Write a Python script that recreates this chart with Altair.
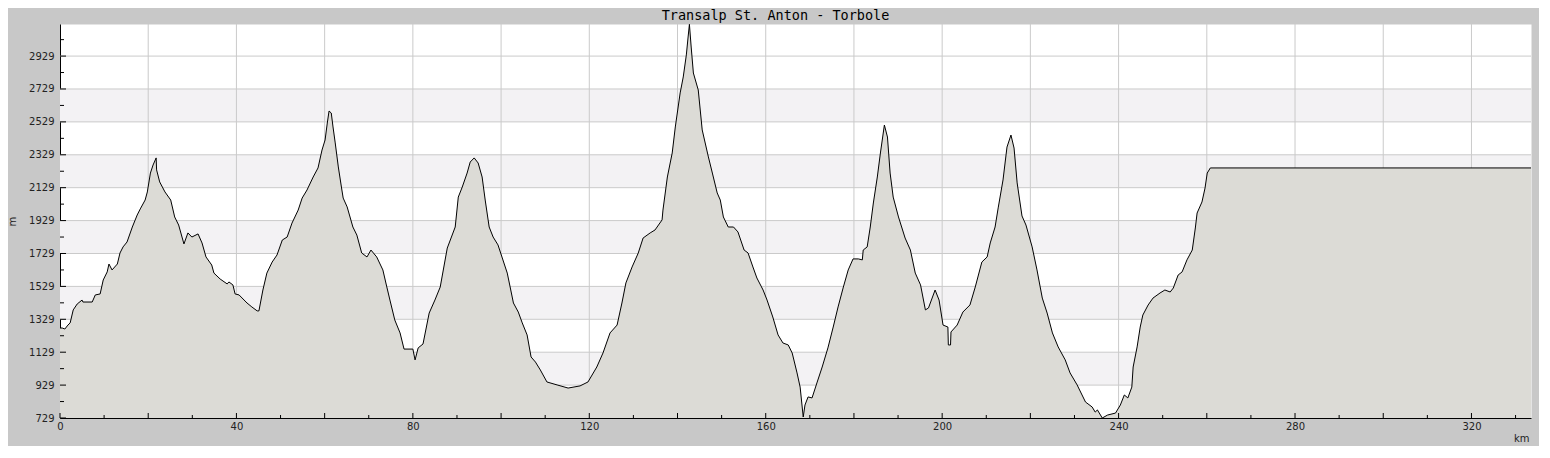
import altair as alt
import pandas as pd

TITLE = "Transalp St. Anton - Torbole"

# Elevation profile (km, m)
km = [
    0, 0.5, 1.1, 1.8, 2.3, 3.0, 3.9, 5.0, 5.2, 7.3,
    8.0, 9.1, 9.8, 10.7, 11.1, 11.8, 13.0, 13.6, 14.3, 15.2,
    16.4, 17.5, 18.2, 19.3, 19.8, 20.5, 21.1, 21.8, 21.9, 22.6,
    23.8, 25.1, 26.0, 26.9, 28.1, 29.0, 29.9, 31.3, 32.2, 33.1,
    34.4, 34.9, 36.3, 37.9, 38.3, 39.2, 39.7, 40.6, 42.4, 43.5,
    44.7, 45.1, 46.0, 46.9, 48.1, 49.2, 50.4, 51.5, 52.6, 54.0,
    54.9, 56.0, 57.4, 58.5, 59.4, 60.1, 60.6, 61.0, 61.5, 61.9,
    62.4, 63.1, 63.8, 64.2, 65.1, 66.4, 67.3, 68.4, 69.6, 70.5,
    71.8, 73.2, 74.1, 74.8, 75.9, 77.1, 78.0, 80.0, 80.5, 81.2,
    82.3, 83.7, 85.0, 86.2, 87.8, 89.6, 90.3, 91.2, 92.3, 93.0,
    93.9, 94.8, 95.7, 96.4, 97.3, 98.2, 99.3, 101.4, 102.8, 103.9,
    104.8, 105.9, 106.8, 107.8, 108.9, 110.4, 112.7, 115.2, 117.9, 119.7,
    121.7, 123.1, 124.7, 126.3, 127.4, 128.3, 129.7, 131.1, 132.2, 133.8,
    134.9, 136.5, 136.7, 137.7, 138.8, 139.5, 140.6, 141.3, 142.0, 142.4,
    142.7, 143.1, 143.6, 144.7, 145.6, 147.0, 147.9, 149.0, 149.7, 150.4,
    151.5, 152.7, 153.7, 155.1, 156.0, 157.1, 158.0, 159.4, 160.3, 161.6,
    162.8, 163.9, 165.1, 166.0, 167.1, 167.8, 168.5, 168.9, 169.6, 170.5,
    171.6, 172.8, 174.1, 175.3, 176.4, 177.6, 178.7, 179.8, 181.0, 181.9,
    182.1, 183.0, 183.7, 184.4, 185.3, 186.0, 186.9, 187.6, 188.2, 188.9,
    190.1, 191.6, 192.8, 193.9, 195.1, 196.2, 196.9, 198.4, 199.3, 200.2,
    201.3, 201.4, 201.9, 202.0, 203.4, 204.7, 206.3, 207.5, 209.0, 210.2,
    210.9, 212.0, 212.7, 213.8, 214.7, 215.6, 216.3, 217.0, 218.1, 219.0,
    220.4, 221.5, 222.7, 223.8, 225.0, 226.3, 227.9, 229.0, 230.6, 232.5,
    234.0, 234.7, 235.2, 236.3, 237.5, 239.3, 240.4, 241.3, 242.1, 243.0,
    243.3, 244.2, 244.9, 245.5, 246.7, 247.8, 249.4, 250.5, 251.7, 252.4,
    253.5, 254.4, 255.5, 256.7, 257.4, 257.8, 258.9, 259.6, 260.1, 260.8,
    333.5,
]
elev = [
    1276, 1276, 1270, 1294, 1307, 1386, 1422, 1446, 1434, 1434,
    1477, 1483, 1568, 1617, 1665, 1629, 1665, 1732, 1769, 1799,
    1890, 1963, 2000, 2054, 2103, 2218, 2267, 2310, 2237, 2164,
    2103, 2054, 1951, 1902, 1787, 1854, 1829, 1848, 1793, 1708,
    1659, 1610, 1574, 1544, 1556, 1538, 1483, 1477, 1428, 1404,
    1380, 1380, 1507, 1610, 1677, 1720, 1811, 1829, 1914, 1993,
    2066, 2115, 2194, 2249, 2358, 2419, 2522, 2595, 2583, 2498,
    2401, 2255, 2133, 2066, 2012, 1890, 1841, 1732, 1708, 1750,
    1708, 1629, 1525, 1446, 1325, 1246, 1148, 1148, 1082, 1155,
    1179, 1367, 1446, 1525, 1762, 1890, 2072, 2133, 2218, 2285,
    2310, 2279, 2194, 2054, 1890, 1829, 1781, 1610, 1428, 1373,
    1307, 1234, 1100, 1069, 1021, 948, 930, 911, 924, 948,
    1039, 1124, 1246, 1294, 1428, 1550, 1647, 1732, 1823, 1854,
    1872, 1933, 1993, 2194, 2340, 2498, 2705, 2802, 2936, 3045,
    3122, 2984, 2826, 2723, 2480, 2316, 2218, 2097, 2054, 1951,
    1890, 1890, 1860, 1750, 1732, 1647, 1580, 1507, 1446, 1343,
    1234, 1185, 1173, 1124, 1003, 917, 735, 808, 857, 851,
    942, 1039, 1155, 1282, 1404, 1525, 1629, 1696, 1696, 1690,
    1750, 1769, 1890, 2036, 2194, 2340, 2510, 2437, 2218, 2072,
    1951, 1823, 1750, 1610, 1538, 1386, 1398, 1507, 1446, 1294,
    1282, 1173, 1173, 1252, 1294, 1373, 1416, 1525, 1677, 1708,
    1793, 1890, 2006, 2176, 2376, 2449, 2370, 2158, 1957, 1902,
    1769, 1629, 1458, 1367, 1246, 1161, 1082, 1003, 930, 826,
    796, 765, 778, 729, 747, 759, 808, 869, 851, 917,
    1039, 1161, 1282, 1355, 1416, 1458, 1489, 1507, 1495, 1519,
    1598, 1617, 1690, 1750, 1884, 1975, 2042, 2127, 2218, 2249,
    2249,
]

y_major = [729, 929, 1129, 1329, 1529, 1729, 1929, 2129, 2329, 2529, 2729, 2929]
y_minor = [829, 1029, 1229, 1429, 1629, 1829, 2029, 2229, 2429, 2629, 2829, 3029]
x_major = [0, 20, 40, 60, 80, 100, 120, 140, 160, 180, 200, 220, 240, 260, 280, 300, 320]
x_minor = [10, 30, 50, 70, 90, 110, 130, 150, 170, 190, 210, 230, 250, 270, 290, 310, 330]
x_labels = [0, 40, 80, 120, 160, 200, 240, 280, 320]
band_lo = [929, 1329, 1729, 2129, 2529]
band_hi = [1129, 1529, 1929, 2329, 2729]
grid_y = [929, 1129, 1329, 1529, 1729, 1929, 2129, 2329, 2529, 2729, 2929]
grid_x = [20, 40, 60, 80, 100, 120, 140, 160, 180, 200, 220, 240, 260, 280, 300, 320]

W, H = 1471, 394
FONT = "DejaVu Sans"

xs = alt.Scale(domain=[0, 333.5], nice=False, zero=False)
ys = alt.Scale(domain=[729, 3124], nice=False, zero=False)

x_axis = alt.Axis(
    values=x_labels, format="d", grid=False, ticks=False, tickSize=0,
    labelPadding=3, labelFlush=False, domainColor="#000000",
    title="km", titleX=1469, titleY=23, titleAlign="right",
    titleBaseline="alphabetic",
)
y_axis = alt.Axis(
    values=y_major, format="d", grid=False, ticks=False, tickSize=0,
    labelPadding=6, domainColor="#000000",
    title="m", titleX=-48, titleY=197, titleAngle=270,
    titleAlign="center", titleBaseline="middle",
)


def X(field):
    return alt.X(field, scale=xs, axis=x_axis)


def Y(field):
    return alt.Y(field, scale=ys, axis=y_axis)


profile = pd.DataFrame({"km": km, "elev": elev})

bands = alt.Chart(pd.DataFrame({"lo": band_lo, "hi": band_hi})).mark_rect(
    color="#f3f2f4"
).encode(
    y=Y("lo:Q"), y2="hi:Q", x=alt.value(0), x2=alt.value(W),
)

hgrid = alt.Chart(pd.DataFrame({"v": grid_y})).mark_rule(
    color="#cacaca", strokeWidth=1
).encode(
    y=Y("v:Q"), x=alt.value(0), x2=alt.value(W),
)

vgrid = alt.Chart(pd.DataFrame({"v": grid_x})).mark_rule(
    color="#cacaca", strokeWidth=1
).encode(
    x=X("v:Q"), y=alt.value(0), y2=alt.value(H),
)

area = alt.Chart(profile).mark_area(color="#dcdbd6", clip=True).encode(
    x=X("km:Q"), y=Y("elev:Q"),
)

line = alt.Chart(profile).mark_line(color="black", strokeWidth=1, clip=True).encode(
    x=X("km:Q"), y=Y("elev:Q"),
)

ytick_major = alt.Chart(pd.DataFrame({"v": y_major})).mark_rule(color="black").encode(
    y=Y("v:Q"), x=alt.value(0), x2=alt.value(6),
)
ytick_minor = alt.Chart(pd.DataFrame({"v": y_minor})).mark_rule(color="black").encode(
    y=Y("v:Q"), x=alt.value(0), x2=alt.value(4),
)
xtick_major = alt.Chart(pd.DataFrame({"v": x_major})).mark_rule(color="black").encode(
    x=X("v:Q"), y=alt.value(H), y2=alt.value(H - 5),
)
xtick_minor = alt.Chart(pd.DataFrame({"v": x_minor})).mark_rule(color="black").encode(
    x=X("v:Q"), y=alt.value(H), y2=alt.value(H - 3),
)

title = alt.Chart(pd.DataFrame({"t": [TITLE]})).mark_text(
    font="DejaVu Sans Mono", fontSize=13.5, color="black",
    align="center", baseline="alphabetic",
).encode(
    text="t:N", x=alt.value(715.5), y=alt.value(-4),
)

chart = alt.layer(
    bands, hgrid, vgrid, area, line,
    ytick_major, ytick_minor, xtick_major, xtick_minor, title,
).properties(
    width=W,
    height=H,
    background="#c8c8c8",
    padding={"left": 52, "top": 16, "right": 8, "bottom": 28},
    autosize=alt.AutoSizeParams(type="none"),
).configure_view(
    fill="white", stroke="transparent",
).configure_axis(
    labelFont=FONT, titleFont=FONT, labelFontSize=10, titleFontSize=10,
    labelColor="#222222", titleColor="#222222", titleFontWeight="normal",
    domainWidth=1,
)

chart.save("out.html", embed_options={"renderer": "svg", "actions": False})
